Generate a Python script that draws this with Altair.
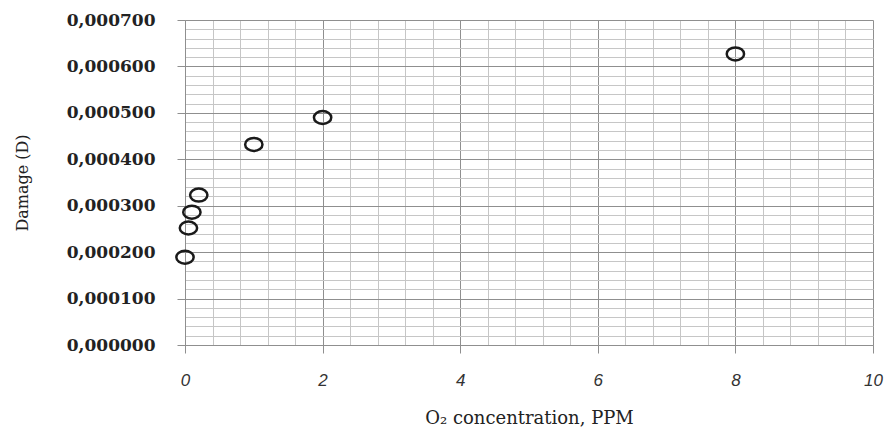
import altair as alt
import pandas as pd

# Data
o2_ppm = [0, 0.05, 0.1, 0.2, 1, 2, 8]
damage = [0.000189, 0.000252, 0.000286, 0.000323, 0.000432, 0.000490, 0.000627]

x_domain = [0, 10]
y_domain = [0, 0.0007]
x_minor_values = [round(i * 0.4, 2) for i in range(26)]
y_minor_values = [round(i * 0.00002, 6) for i in range(36)]

df = pd.DataFrame({"o2": o2_ppm, "damage": damage})

x_major = "abs(datum.value / 2 - round(datum.value / 2)) < 1e-6"
y_major = "abs(datum.value * 10000 - round(datum.value * 10000)) < 1e-6"

ellipse = ("M-1,0 C-1,-0.414 -0.552,-0.75 0,-0.75 C0.552,-0.75 1,-0.414 1,0 "
           "C1,0.414 0.552,0.75 0,0.75 C-0.552,0.75 -1,0.414 -1,0 Z")

x_axis = alt.Axis(
    values=x_minor_values,
    title="O₂ concentration,  PPM",
    grid=True,
    gridColor={"condition": {"test": x_major, "value": "#8f8f8f"}, "value": "#c6c6c6"},
    gridWidth=1,
    domainColor="#8f8f8f",
    tickColor={"condition": {"test": x_major, "value": "#8f8f8f"}, "value": "transparent"},
    tickSize=8,
    labelExpr=f"{x_major} ? format(datum.value, 'd') : ''",
    labelFont="Liberation Sans",
    labelFontStyle="italic",
    labelFontSize=17,
    labelColor="#333333",
    labelPadding=19,
    labelFlush=False,
    labelOverlap=False,
    titleFont="DejaVu Serif",
    titleFontSize=18,
    titleFontWeight="normal",
    titleColor="#222222",
    titleBaseline="middle",
    titleY=73,
)

y_axis = alt.Axis(
    values=y_minor_values,
    title="Damage (D)",
    grid=True,
    gridColor={"condition": {"test": y_major, "value": "#8f8f8f"}, "value": "#c6c6c6"},
    gridWidth=1,
    domainColor="#8f8f8f",
    tickColor={"condition": {"test": y_major, "value": "#8f8f8f"}, "value": "transparent"},
    tickSize=8,
    labelExpr=f"{y_major} ? replace(format(datum.value, '.6f'), '.', ',') : ''",
    labelFont="DejaVu Serif",
    labelFontWeight="bold",
    labelFontSize=17,
    labelColor="#222222",
    labelPadding=22,
    labelOverlap=False,
    labelFlush=False,
    titleFont="DejaVu Serif",
    titleFontSize=16,
    titleFontWeight="normal",
    titleColor="#222222",
    titleBaseline="middle",
    titleX=-163,
)

chart = alt.Chart(df).mark_point(
    shape=ellipse,
    filled=False,
    size=300,
    stroke="#1a1a1a",
    strokeWidth=2.5,
    opacity=1,
).encode(
    x=alt.X("o2:Q", scale=alt.Scale(domain=x_domain, nice=False, zero=True), axis=x_axis),
    y=alt.Y("damage:Q", scale=alt.Scale(domain=y_domain, nice=False, zero=True), axis=y_axis),
).properties(
    width=688,
    height=325,
    autosize=alt.AutoSizeParams(type="none"),
    padding={"left": 177, "top": 12, "right": 12, "bottom": 84},
    background="white",
).configure_view(stroke=None)

chart.save("out.html", embed_options={"renderer": "svg", "actions": False})
